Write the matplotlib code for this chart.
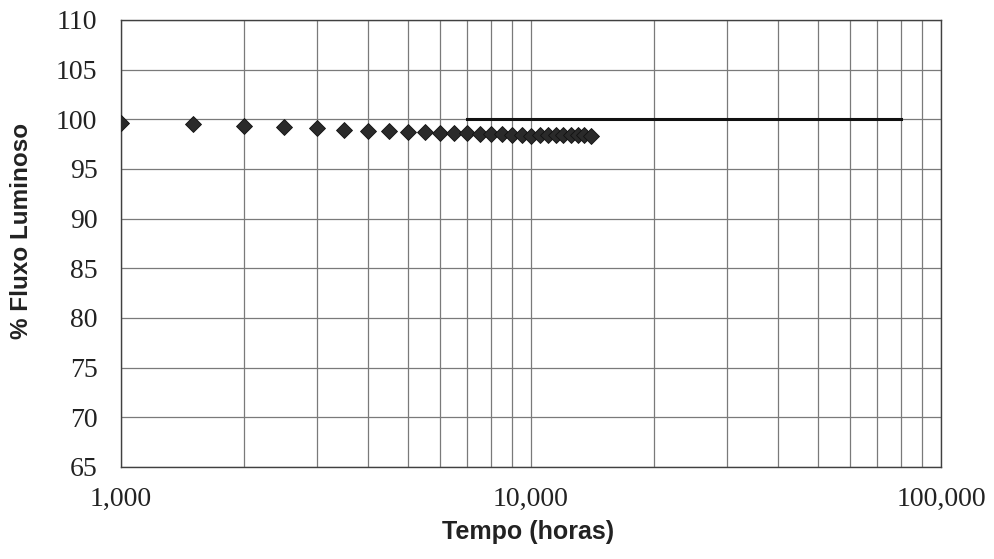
import matplotlib
matplotlib.use("Agg")
import matplotlib.pyplot as plt
from matplotlib.ticker import FixedLocator, FixedFormatter, NullFormatter, LogLocator

# ---- data ----
tempo_horas = [1000, 1500, 2000, 2500, 3000, 3500, 4000, 4500, 5000, 5500,
               6000, 6500, 7000, 7500, 8000, 8500, 9000, 9500, 10000, 10500,
               11000, 11500, 12000, 12500, 13000, 13500, 14000]
fluxo_pct = [99.6, 99.5, 99.3, 99.2, 99.1, 98.9, 98.8, 98.8, 98.7, 98.7,
             98.6, 98.6, 98.6, 98.5, 98.5, 98.5, 98.4, 98.4, 98.3, 98.4,
             98.4, 98.4, 98.4, 98.4, 98.4, 98.4, 98.3]
proj_tempo = [7000, 80000]
proj_fluxo = [100, 100]

x_ticks = [1000, 10000, 100000]
x_tick_labels = ["1,000", "10,000", "100,000"]
y_ticks = [65, 70, 75, 80, 85, 90, 95, 100, 105, 110]

# ---- figure ----
fig = plt.figure(figsize=(9.94, 5.59), dpi=100)
ax = fig.add_axes([121/994, 1-467/559, (941-121)/994, (467-20)/559])

ax.set_xscale("log")
ax.set_xlim(1000, 100000)
ax.set_ylim(65, 110)

grid_kw = dict(color="#7a7a7a", linewidth=0.9)
ax.xaxis.set_major_locator(FixedLocator(x_ticks))
ax.xaxis.set_major_formatter(FixedFormatter(x_tick_labels))
ax.xaxis.set_minor_locator(LogLocator(base=10, subs=[2, 3, 4, 5, 6, 7, 8, 9]))
ax.xaxis.set_minor_formatter(NullFormatter())
ax.yaxis.set_major_locator(FixedLocator(y_ticks))
ax.grid(True, which="major", axis="both", **grid_kw)
ax.grid(True, which="minor", axis="x", **grid_kw)
ax.set_axisbelow(True)

for s in ax.spines.values():
    s.set_color("#404040")
    s.set_linewidth(1.0)

ax.tick_params(axis="both", which="both", length=0)
ax.tick_params(axis="y", pad=17)
ax.tick_params(axis="x", pad=14)
for lbl in ax.get_xticklabels() + ax.get_yticklabels():
    lbl.set_fontfamily("Liberation Serif")
    lbl.set_fontsize(20)
    lbl.set_color("#222222")

ax.plot(proj_tempo, proj_fluxo, color="#111111", linewidth=2.2, zorder=3)
ax.plot(tempo_horas, fluxo_pct, linestyle="none", marker="D", markersize=8,
        markerfacecolor="#2a2a2a", markeredgecolor="#111111", markeredgewidth=0.6,
        zorder=4)

fig.text(528/994, 1-532/559, "Tempo (horas)", ha="center", va="center",
         fontfamily="Liberation Sans", fontweight="bold", fontsize=18, color="#222222")
fig.text(22/994, 1-231/559, "% Fluxo Luminoso", ha="center", va="center", rotation=90,
         fontfamily="Liberation Sans", fontweight="bold", fontsize=17.5, color="#222222")

fig.savefig("out.png", dpi=100, facecolor="white")
